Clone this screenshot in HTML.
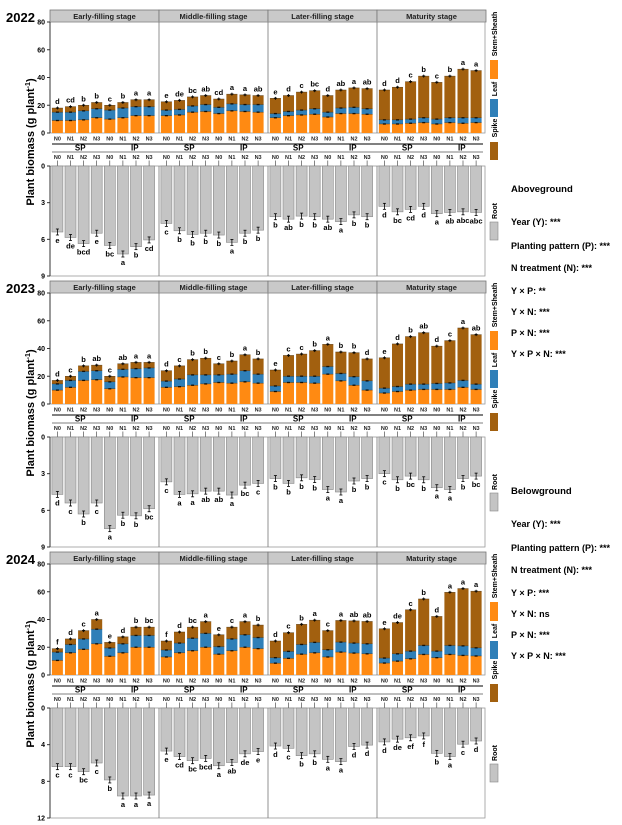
<!DOCTYPE html>
<html><head><meta charset="utf-8"><style>
html,body{margin:0;padding:0;background:#fff;}
svg{display:block;font-family:"Liberation Sans",Arial,sans-serif;font-weight:bold;}
</style></head><body>
<svg id="chart" width="622" height="825" viewBox="0 0 622 825" xmlns="http://www.w3.org/2000/svg"></svg>
<script>
const years = ["2022","2023","2024"];
const stages = ["Early-filling stage","Middle-filling stage","Later-filling stage","Maturity stage"];
const nLevels = ["N0","N1","N2","N3"];
const patterns = ["SP","IP"];
const rootMax = [9,9,12];
const rootTicks = [[0,3,6,9],[0,3,6,9],[0,4,8,12]];
const topTicks = [0,20,40,60,80];

const stem2022 = [9,9,9.5,11,10,11,12.5,12.5, 12.5,13,15,15.5,14,16,15.5,15, 11,12.5,13,13.5,11.5,14,14,13.5, 6.5,6.5,7,7.5,6.5,7.5,7,7.5];
const leaf2022 = [6,6,6.5,6.5,6.5,7,6.5,6.5, 4,4,4.5,5,4.5,5,5,5.5, 3,3,3.5,4,3.5,4,4.5,4, 3,3,3,3.5,3.5,3.5,4,3.5];
const spike2022 = [3,4,4,4.5,3.5,4,5,5, 6,6.5,6.5,6.5,6,7,7,6.5, 11,11.5,13,13,12,13,14,14.5, 21.5,23.5,27,30,26.5,30,35,34];
const root2022 = [5.4,5.85,6.35,5.5,6.5,7.2,6.6,6.05, 4.7,5.3,5.6,5.5,5.65,6.25,5.5,5.25, 4.15,4.35,4.1,4.15,4.35,4.55,4.0,4.15, 3.3,3.75,3.55,3.3,3.9,3.8,3.75,3.8];
const topLet2022 = ["d","cd","b","b","c","b","a","a","e","de","bc","ab","cd","a","a","ab","e","d","c","bc","d","ab","a","ab","d","d","c","b","c","b","a","a"];
const rootLet2022 = ["e","de","bcd","e","bc","a","b","cd","c","b","b","b","b","a","b","b","b","ab","b","b","ab","a","b","b","d","bc","cd","d","a","ab","abc","abc"];

const stem2023 = [10,12,17,17.5,11,19.5,19,19, 12,12.5,13.5,14.5,15.5,15,16,15, 9,15.5,15.5,15,21.5,16.7,13.5,10, 7.9,9,10,10.5,10.5,10.5,12,10.5];
const leaf2023 = [4.5,5,6.5,6.5,5,5.5,6.5,7, 4.5,5.5,7.5,6.5,5.5,6.5,8,6.5, 4,4.5,4.5,5,5.5,5.3,6.2,6.7, 3.5,3.6,4.3,3.8,4.3,4.7,5,3.8];
const spike2023 = [2.5,3,4,4,4,4,4.5,4, 7.5,9.5,11,12,8,9.5,11.5,11, 11.5,15,16,18.5,16,15.5,17.3,15.8, 21.9,30.7,34.3,37.1,26.9,30.5,37.8,35.7];
const root2023 = [4.7,5.4,6.3,5.4,7.5,6.4,6.45,5.87, 3.67,4.7,4.65,4.43,4.43,4.75,3.94,3.8, 3.4,3.8,3.34,3.48,4.3,4.5,3.6,3.4, 3.0,3.5,3.2,3.5,4.15,4.3,3.4,3.2];
const topLet2023 = ["d","c","b","ab","c","ab","a","a","d","c","b","b","c","b","a","b","e","c","c","b","a","b","b","d","e","d","b","ab","d","c","a","ab"];
const rootLet2023 = ["d","c","b","c","a","b","b","bc","c","a","a","ab","ab","a","bc","c","b","b","b","b","a","a","b","b","c","b","bc","b","a","a","b","bc"];

const stem2024 = [10.5,16,18.5,22.5,13.5,16,20,20, 13,16,17.5,20,15,17.5,20,19, 8.5,12,15,16,13,16.5,15.8,15.3, 8.6,10,11.7,14.8,12.5,14.8,14.1,13.7];
const leaf2024 = [6,6,7.5,10.5,6,6.5,8.5,8.5, 5,7,9,10,5.5,8.5,9,8, 4,5,7,7.5,5.2,7.2,7.2,7.2, 3.6,5.3,5.5,6.5,4.7,6.5,6.9,5.9];
const spike2024 = [2.5,4,6,7,4,5,6,6, 6.5,8,8,8.5,8.5,8.5,9.5,9, 12,13.5,14.5,16,13.8,15.6,16,16.1, 21.1,22.5,29.8,33.5,25,38.3,41.3,40.8];
const root2024 = [6.4,6.4,6.95,6.0,7.85,9.6,9.6,9.5, 4.7,5.3,5.75,5.5,6.3,5.95,5.0,4.75, 4.15,4.4,5.2,5.0,5.6,5.85,4.2,4.05, 3.7,3.4,3.25,3.05,4.95,5.3,3.95,3.6];
const topLet2024 = ["f","d","c","a","e","d","b","bc","f","d","bc","a","e","c","a","b","d","c","b","a","c","a","ab","ab","e","de","c","b","d","a","a","a"];
const rootLet2024 = ["c","c","bc","c","b","a","a","a","e","cd","bc","bcd","a","ab","de","e","d","c","b","b","a","a","d","d","d","de","ef","f","b","a","c","d"];

const statAbove = [["Year (Y): ***","Planting pattern (P): ***","N treatment (N): ***"],["Y × P: **","Y × N: ***","P × N: ***","Y × P × N: ***"]];
const statBelow = [["Year (Y): ***","Planting pattern (P): ***","N treatment (N): ***"],["Y × P: ***","Y × N: ns","P × N: ***","Y × P × N: ***"]];

const stemAll=[stem2022,stem2023,stem2024], leafAll=[leaf2022,leaf2023,leaf2024], spikeAll=[spike2022,spike2023,spike2024];
const rootAll=[root2022,root2023,root2024], topLetAll=[topLet2022,topLet2023,topLet2024], rootLetAll=[rootLet2022,rootLet2023,rootLet2024];

const C={stem:"#ff8a12",leaf:"#2f7fb8",spike:"#a2600f",root:"#c4c4c4"};
const svg=document.getElementById('chart');
const NS="http://www.w3.org/2000/svg";
function mk(tag,at,txt,parent){const e=document.createElementNS(NS,tag);for(const k in at)e.setAttribute(k,at[k]);if(txt!==undefined)e.textContent=txt;(parent||svg).appendChild(e);return e;}
const X0=50, X1=485, SW=109;
function barX(i){const s=Math.floor(i/8), j=i%8; return X0+s*SW+7.4+j*13.1;}

for(let p=0;p<3;p++){
  const b=p*271;
  const g=mk('g',{});  
  const topY=v=>b+133-v*111/80;
  const botY=v=>b+166+v*110/rootMax[p];
  let t=mk('text',{x:6,y:b+22,'font-size':13},years[p],g);
   
  t=mk('text',{x:0,y:0,'font-size':11,'text-anchor':'middle',transform:`translate(34,${b+142}) rotate(-90)`},'',g);
   
  t.appendChild(document.createTextNode('Plant biomass (g plant'));
  const sup=mk('tspan',{dy:-4,'font-size':7},'-1',t); mk('tspan',{dy:4},')',t);
  // header strips
  for(let s=0;s<4;s++){
    const r=mk('rect',{x:X0+s*SW,y:b+10,width:SW,height:12,fill:'#c9c9c9',stroke:'#777','stroke-width':0.8},undefined,g);
     
    const h=mk('text',{x:X0+s*SW+SW/2,y:b+19,'font-size':7.5,'text-anchor':'middle',fill:'#222'},stages[s],g);
     
  }
  // plot frames
  mk('rect',{x:X0,y:b+22,width:X1-X0,height:111,fill:'none',stroke:'#999','stroke-width':0.8},undefined,g);
  mk('rect',{x:X0,y:b+166,width:X1-X0,height:110,fill:'none',stroke:'#999','stroke-width':0.8},undefined,g);
  mk('line',{x1:X0,y1:b+22,x2:X0,y2:b+133,stroke:'#333','stroke-width':1},undefined,g);
  mk('line',{x1:X0,y1:b+166,x2:X0,y2:b+276,stroke:'#333','stroke-width':1},undefined,g);
  for(let s=1;s<4;s++){
    mk('line',{x1:X0+s*SW,y1:b+22,x2:X0+s*SW,y2:b+133,stroke:'#777','stroke-width':0.8},undefined,g);
    mk('line',{x1:X0+s*SW,y1:b+166,x2:X0+s*SW,y2:b+276,stroke:'#777','stroke-width':0.8},undefined,g);
  }
  topTicks.forEach(v=>{mk('line',{x1:X0-3,x2:X0,y1:topY(v),y2:topY(v),stroke:'#333'},undefined,g);
    const tt=mk('text',{x:X0-5,y:topY(v)+2.5,'font-size':7,'text-anchor':'end'},v,g);
     });
  rootTicks[p].forEach(v=>{mk('line',{x1:X0-3,x2:X0,y1:botY(v),y2:botY(v),stroke:'#333'},undefined,g);
    const tt=mk('text',{x:X0-5,y:botY(v)+2.5,'font-size':7,'text-anchor':'end'},v,g);
     });
  // pattern lines
  mk('line',{x1:X0+2,x2:X1-2,y1:b+144,y2:b+144,stroke:'#000','stroke-width':1},undefined,g);
  mk('line',{x1:X0+2,x2:X1-2,y1:b+152,y2:b+152,stroke:'#555','stroke-width':0.8},undefined,g);
  for(let s=0;s<4;s++)for(let q=0;q<2;q++){
    const pl=mk('text',{x:X0+s*SW+q*SW/2+SW/4+3,y:b+150.5,'font-size':8,'text-anchor':'middle'},patterns[q],g);
     
  }
  const st=stemAll[p], lf=leafAll[p], sp=spikeAll[p], rt=rootAll[p];
  for(let i=0;i<32;i++){
    const cx=barX(i), w=11, x=cx-w/2;
    const n=nLevels[i%4];
    let nl=mk('text',{x:cx,y:b+140.5,'font-size':5.5,'text-anchor':'middle',fill:'#222'},n,g);
     
    nl=mk('text',{x:cx,y:b+159,'font-size':5.5,'text-anchor':'middle',fill:'#222'},n,g);
     
    mk('line',{x1:cx,x2:cx,y1:b+160.5,y2:b+166,stroke:'#333','stroke-width':0.6},undefined,g);
    const t1=st[i], t2=t1+lf[i], t3=t2+sp[i];
    let r=mk('rect',{x:x,y:topY(t1),width:w,height:topY(0)-topY(t1),fill:C.stem},undefined,g);
     
    r=mk('rect',{x:x,y:topY(t2),width:w,height:topY(t1)-topY(t2),fill:C.leaf},undefined,g);
     
    r=mk('rect',{x:x,y:topY(t3),width:w,height:topY(t2)-topY(t3),fill:C.spike},undefined,g);
     
    [t1,t2,t3].forEach(v=>{mk('line',{x1:cx-1.5,x2:cx+1.5,y1:topY(v),y2:topY(v),stroke:'#000','stroke-width':1.3},undefined,g);
      mk('line',{x1:x,x2:x+w,y1:topY(v),y2:topY(v),stroke:'#3a2a10','stroke-width':0.4},undefined,g);});
    mk('line',{x1:cx,x2:cx,y1:topY(t3)-1.5,y2:topY(t3)+1.5,stroke:'#000','stroke-width':0.8},undefined,g);
    let lt=mk('text',{x:cx,y:topY(t3)-4,'font-size':7.5,'text-anchor':'middle'},topLetAll[p][i],g);
     
    r=mk('rect',{x:x,y:b+166,width:w,height:botY(rt[i])-(b+166),fill:C.root,stroke:'#888','stroke-width':0.6},undefined,g);
     
    const ry=botY(rt[i]);
    mk('line',{x1:cx,x2:cx,y1:ry-3,y2:ry+3,stroke:'#000','stroke-width':0.8},undefined,g);
    mk('line',{x1:cx-1.5,x2:cx+1.5,y1:ry-3,y2:ry-3,stroke:'#000','stroke-width':0.8},undefined,g);
    mk('line',{x1:cx-1.5,x2:cx+1.5,y1:ry+3,y2:ry+3,stroke:'#000','stroke-width':0.8},undefined,g);
    lt=mk('text',{x:cx,y:ry+11,'font-size':7.5,'text-anchor':'middle'},rootLetAll[p][i],g);
     
  }
  // legend
  const lg=mk('g',{},undefined,g);  
  const leg=[['Stem+Sheath',34,C.stem,60,79],['Leaf',89,C.leaf,99,117],['Spike',128,C.spike,142,160],['Root',211,C.root,222,240]];
  leg.forEach(L=>{
    const tx=mk('text',{x:0,y:0,'font-size':7,'text-anchor':'middle',transform:`translate(497,${b+L[1]}) rotate(-90)`},L[0],lg);
     
    const sw=mk('rect',{x:490,y:b+L[3],width:8,height:L[4]-L[3],fill:L[2],stroke:L[0]==='Root'?'#888':'none','stroke-width':0.6},undefined,lg);
     
  });
}
// stats text
function stats(title,y0,lines){
  let t=mk('text',{x:511,y:y0,'font-size':9.5},title);  
  let ys=[y0+33,y0+57,y0+79,y0+102,y0+123,y0+144,y0+165];
  lines[0].concat(lines[1]).forEach((s,i)=>{const e=mk('text',{x:511,y:ys[i],'font-size':9},s);
     });
}
stats('Aboveground',192,statAbove);
stats('Belowground',494,statBelow);
</script>
</body></html>
